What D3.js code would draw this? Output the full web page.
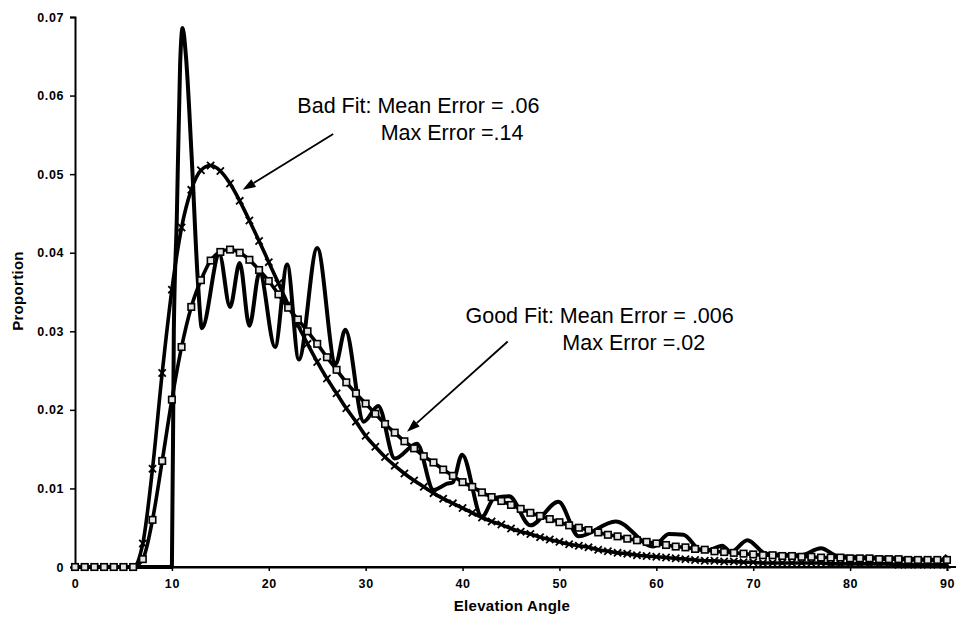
<!DOCTYPE html>
<html><head><meta charset="utf-8">
<script src="https://cdn.jsdelivr.net/npm/d3@7"></script>
<style>
body{margin:0;background:#fff}
text{font-family:"Liberation Sans",Arial,sans-serif;fill:#000}
</style>
</head><body>
<svg id="chart" width="956" height="620"></svg>
<script>
// ---- data ----
const angles = d3.range(0, 91); // integer elevation angles 0..90
const goodFit = [
 0,0,0,0,0,0,0,0.0010,0.0060,0.0135,
 0.0213,0.0280,0.0331,0.0365,0.0390,0.0401,0.0404,0.0400,0.0391,0.0378,
 0.0364,0.0347,0.0330,0.0315,0.0300,0.0284,0.0267,0.0251,0.0235,0.0221,
 0.0208,0.0195,0.0182,0.0171,0.0160,0.0151,0.0141,0.0133,0.0124,0.0116,
 0.0108,0.0102,0.0095,0.0089,0.0084,0.0079,0.0074,0.0069,0.0065,0.0061,
 0.0057,0.0053,0.0050,0.0047,0.0044,0.0041,0.0039,0.0036,0.0034,0.0032,
 0.0030,0.0028,0.0026,0.0025,0.0023,0.0022,0.0020,0.0019,0.0018,0.0017,
 0.0016,0.0015,0.0015,0.0014,0.0014,0.0013,0.0013,0.0012,0.0012,0.0012,
 0.0011,0.0011,0.0011,0.0010,0.0010,0.0010,0.0009,0.0009,0.0009,0.0009,
 0.0009
];
const badFit = [
 0,0,0,0,0,0,0,0.0030,0.0125,0.0247,
 0.0353,0.0432,0.0480,0.0505,0.0511,0.0504,0.0488,0.0466,0.0441,0.0415,
 0.0388,0.0361,0.0334,0.0308,0.0284,0.0261,0.0240,0.0221,0.0202,0.0185,
 0.0167,0.0153,0.0140,0.0129,0.0119,0.0110,0.0102,0.0094,0.0087,0.0081,
 0.0075,0.0069,0.0063,0.0058,0.0054,0.0049,0.0045,0.0042,0.0038,0.0035,
 0.0032,0.0029,0.0027,0.0025,0.0022,0.0020,0.0018,0.0017,0.0015,0.0014,
 0.0013,0.0012,0.0011,0.0010,0.0009,0.0008,0.0008,0.0007,0.0007,0.0006,
 0.0006,0.0005,0.0005,0.0005,0.0005,0.0005,0.0005,0.0005,0.0004,0.0004,
 0.0004,0.0004,0.0004,0.0004,0.0004,0.0003,0.0003,0.0003,0.0003,0.0003,
 0.0003
];
const observedAngle = [0,9.9,10.0,10.2,10.5,10.85,11.1,11.45,12.05,12.7,13.1,14.9,16.0,17.0,18.0,19.05,20.65,21.9,23.1,25.0,26.9,27.9,29.8,31.3,33.0,35.3,37.0,38.4,39.0,39.95,42.0,43.3,44.8,47.0,49.9,52.0,55.8,59.7,61.3,62.8,64.5,65.3,66.8,67.7,69.4,71.3,74.9,77.0,78.7,83.2,89.4,90.0];
const observedValue = [0,0,0,0.0300,0.0440,0.0640,0.0686,0.0650,0.0520,0.0360,0.0304,0.0398,0.0331,0.0387,0.0307,0.0375,0.0280,0.0385,0.0264,0.0406,0.0258,0.0302,0.0185,0.0205,0.0138,0.0157,0.0098,0.0106,0.0108,0.0143,0.0064,0.0088,0.0090,0.0053,0.0083,0.0039,0.0058,0.0026,0.0042,0.0041,0.0022,0.0021,0.0027,0.0019,0.0034,0.0017,0.0015,0.0024,0.0014,0.0012,0.0009,0.0015];
const xTicks = [0,10,20,30,40,50,60,70,80,90];
const yTicks = [0,0.01,0.02,0.03,0.04,0.05,0.06,0.07];
const xTitle = "Elevation Angle";
const yTitle = "Proportion";
const notes = [
  {lines:["Bad Fit: Mean Error = .06","Max Error =.14"], at:[22.95,0.0578], indent:[0,8.6], from:[26.65,0.0551], to:[17.3,0.0480]},
  {lines:["Good Fit: Mean Error = .006","Max Error =.02"], at:[40.3,0.0310], indent:[0,10.0], from:[44.66,0.0287], to:[34.27,0.0172]}
];

// ---- layout ----
const svg = d3.select("#chart");
const x = d3.scaleLinear().domain([0,90]).range([75,947]);
const y = d3.scaleLinear().domain([0,0.07]).range([567,17]);

// axes
const yAxis = svg.append("g").attr("transform","translate(75,0)")
  .call(d3.axisLeft(y).tickValues(yTicks).tickSize(5).tickPadding(6)
    .tickFormat(d => d===0 ? "0" : d3.format(".2f")(d)));
const xAxis = svg.append("g").attr("transform","translate(0,567)")
  .call(d3.axisBottom(x).tickValues(xTicks).tickSize(4).tickPadding(8).tickFormat(d3.format("d")));
[yAxis,xAxis].forEach(g=>{
  g.select(".domain").attr("stroke","#000").attr("stroke-width",2);
  g.selectAll(".tick line").attr("stroke","#000").attr("stroke-width",1.5);
  g.selectAll(".tick text").attr("font-size",12.5).attr("font-weight","bold").attr("letter-spacing",0.6)
    .style("font-family","'Liberation Sans',Arial,sans-serif").attr("fill","#000");
});
svg.append("line").attr("x1",x(0)).attr("x2",956).attr("y1",y(0)).attr("y2",y(0))
  .attr("stroke","#000").attr("stroke-width",2);

svg.append("text").attr("x",512).attr("y",611).attr("text-anchor","middle")
  .attr("font-size",15).attr("font-weight","bold").attr("letter-spacing",0.3).text(xTitle);
svg.append("text").attr("transform","translate(23,291) rotate(-90)").attr("text-anchor","middle")
  .attr("font-size",15).attr("font-weight","bold").attr("letter-spacing",0.3).text(yTitle);

// lines
const fitLine = d3.line().x((d,i)=>x(angles[i])).y(d=>y(d)).curve(d3.curveMonotoneX);
svg.append("path").datum(badFit).attr("d",fitLine).attr("fill","none").attr("stroke","#000").attr("stroke-width",3.6);
svg.append("path").datum(goodFit).attr("d",fitLine).attr("fill","none").attr("stroke","#000").attr("stroke-width",3.6);

const obsLine = d3.line().x(d=>x(d[0])).y(d=>y(d[1])).curve(d3.curveMonotoneX);
svg.append("path").datum(observedAngle.map((a,i)=>[a,observedValue[i]]))
  .attr("d",obsLine).attr("fill","none").attr("stroke","#000").attr("stroke-width",4).attr("stroke-linejoin","round");

// markers: x for bad fit
const xs = 3.6;
svg.append("g").selectAll("path").data(badFit).join("path")
  .attr("d",(d,i)=>{const cx=x(angles[i]), cy=y(d);
    return `M${cx-xs},${cy-xs}L${cx+xs},${cy+xs}M${cx-xs},${cy+xs}L${cx+xs},${cy-xs}`;})
  .attr("stroke","#000").attr("stroke-width",1.8).attr("fill","none");
// squares for good fit
const sq = 6.5;
svg.append("g").selectAll("rect").data(goodFit).join("rect")
  .attr("x",(d,i)=>x(angles[i])-sq/2).attr("y",d=>y(d)-sq/2)
  .attr("width",sq).attr("height",sq)
  .attr("fill","#e4e4e4").attr("stroke","#000").attr("stroke-width",1.6);

// annotations
const ann = svg.append("g");
notes.forEach(n=>{
  n.lines.forEach((t,k)=>{
    ann.append("text").attr("x",x(n.at[0]+n.indent[k])).attr("y",y(n.at[1])+k*27)
      .attr("font-size",21.5).text(t);
  });
  const x1=x(n.from[0]), y1=y(n.from[1]), x2=x(n.to[0]), y2=y(n.to[1]);
  const ang=Math.atan2(y2-y1,x2-x1), L=13, W=4.5;
  const bx=x2-L*Math.cos(ang), by=y2-L*Math.sin(ang);
  ann.append("line").attr("x1",x1).attr("y1",y1).attr("x2",bx).attr("y2",by)
    .attr("stroke","#000").attr("stroke-width",1.8);
  ann.append("path").attr("d",`M${x2},${y2}L${bx+W*Math.sin(ang)},${by-W*Math.cos(ang)}L${bx-W*Math.sin(ang)},${by+W*Math.cos(ang)}Z`)
    .attr("fill","#000");
});
</script>
</body></html>
